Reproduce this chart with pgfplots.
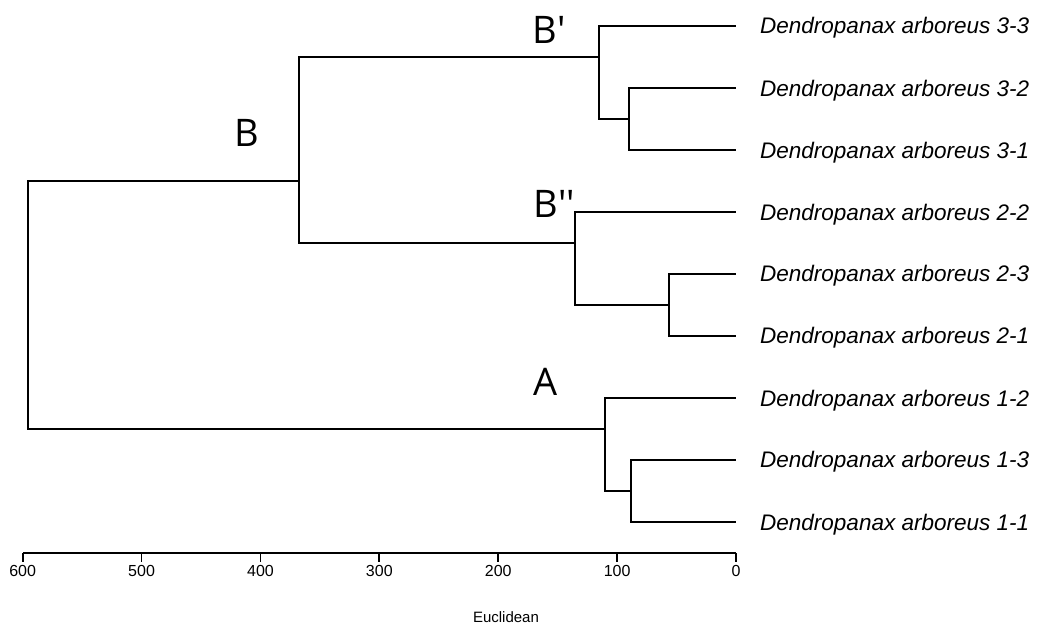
\documentclass[border=0pt]{standalone}
\usepackage{pgfplots}
\pgfplotsset{compat=1.18}
\usepackage{fontspec}
\setmainfont{Liberation Sans}
\newfontfamily\osans{Open Sans}[Ligatures=TeXOff]
\begin{document}
\begin{tikzpicture}
\begin{axis}[
 scale only axis, width=713.3bp, height=553bp,
 xmin=0, xmax=600, ymin=-553, ymax=0, x dir=reverse,
 axis x line*=bottom, hide y axis,
 xtick={0,100,200,300,400,500,600},
 tick align=outside, major tick length=8.7bp,
 every tick/.style={black, line width=1.8bp},
 x axis line style={line width=1.8bp, -},
 ticklabel style={font=\fontsize{16bp}{19bp}\selectfont},
 /pgf/number format/assume math mode=true,
 clip=false,
 dend/.style={black, solid, line width=1.8bp, mark=none, line join=miter},
]
% leaf pairs and clusters (x = Euclidean distance, y = -pixel row)
\addplot[dend] coordinates {(0,-88.3) (90,-88.3) (90,-150.3) (0,-150.3)};
\addplot[dend] coordinates {(0,-25.7) (115,-25.7) (115,-118.7) (90,-118.7)};
\addplot[dend] coordinates {(0,-274) (56.4,-274) (56.4,-336) (0,-336)};
\addplot[dend] coordinates {(0,-212.3) (135.4,-212.3) (135.4,-305) (56.4,-305)};
\addplot[dend] coordinates {(115,-56.7) (367.8,-56.7) (367.8,-242.7) (135.4,-242.7)};
\addplot[dend] coordinates {(0,-460) (88.3,-460) (88.3,-522.3) (0,-522.3)};
\addplot[dend] coordinates {(0,-398.3) (110.2,-398.3) (110.2,-491) (88.3,-491)};
\addplot[dend] coordinates {(367.8,-181.3) (595.5,-181.3) (595.5,-429.3) (110.2,-429.3)};

\path (axis cs:619.1,0) rectangle (axis cs:-253.2,-628);

\begin{scope}[every node/.style={anchor=base west, inner sep=0pt, font=\fontsize{22.5bp}{27bp}\selectfont\itshape}]
\node at (axis cs:-20.2,-33.5) {Dendropanax arboreus 3-3};
\node at (axis cs:-20.2,-96.1) {Dendropanax arboreus 3-2};
\node at (axis cs:-20.2,-158.1) {Dendropanax arboreus 3-1};
\node at (axis cs:-20.2,-220.1) {Dendropanax arboreus 2-2};
\node at (axis cs:-20.2,-281.8) {Dendropanax arboreus 2-3};
\node at (axis cs:-20.2,-343.8) {Dendropanax arboreus 2-1};
\node at (axis cs:-20.2,-406.1) {Dendropanax arboreus 1-2};
\node at (axis cs:-20.2,-467.8) {Dendropanax arboreus 1-3};
\node at (axis cs:-20.2,-530.1) {Dendropanax arboreus 1-1};
\end{scope}

\begin{scope}[every node/.style={anchor=base west, inner sep=0pt, font=\fontsize{38bp}{44bp}\osans}]
\node at (axis cs:422.2,-146.7) {B};
\node at (axis cs:171.2,-43.3) {B'};
\node at (axis cs:170.4,-217.3) {B''};
\node at (axis cs:170.7,-396) {A};
\end{scope}

\node[font=\fontsize{15bp}{18bp}\selectfont, inner sep=0pt] at (axis cs:193.5,-617) {Euclidean};
\end{axis}
\end{tikzpicture}
\end{document}
